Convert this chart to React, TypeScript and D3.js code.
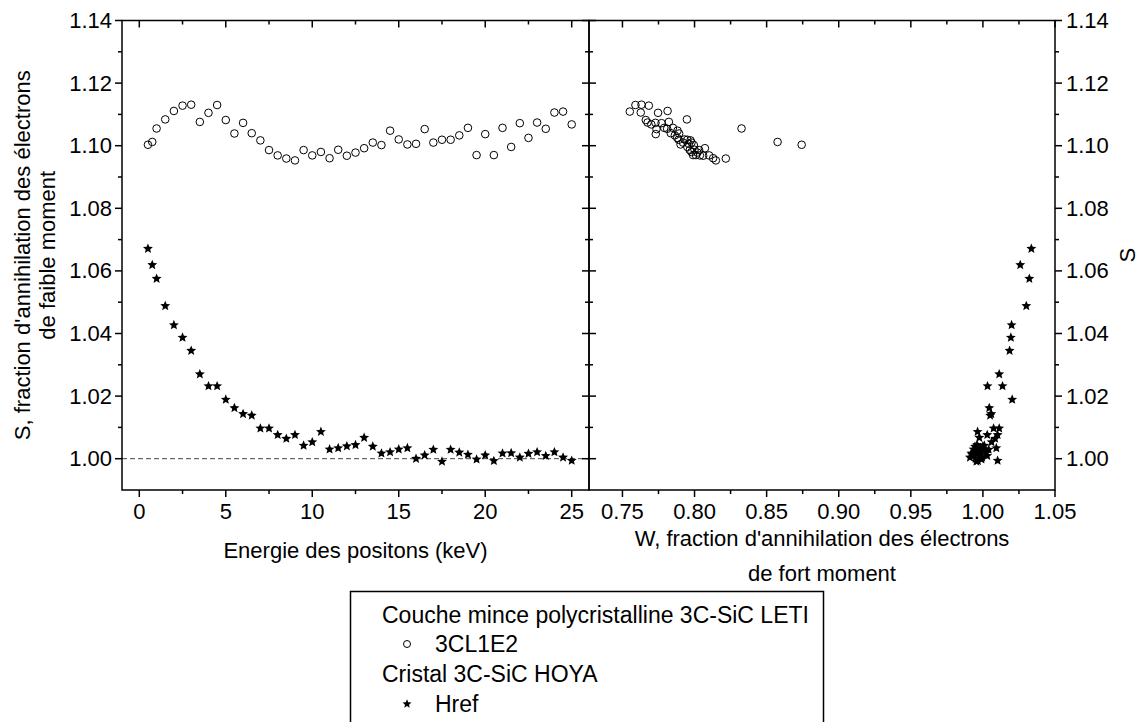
import React from "react";
import * as d3 from "d3";

// ---------- data ----------
const energies = [
  0.5, 0.75, 1, 1.5, 2, 2.5, 3, 3.5, 4, 4.5, 5, 5.5, 6, 6.5, 7, 7.5, 8, 8.5, 9, 9.5,
  10, 10.5, 11, 11.5, 12, 12.5, 13, 13.5, 14, 14.5, 15, 15.5, 16, 16.5, 17, 17.5, 18,
  18.5, 19, 19.5, 20, 20.5, 21, 21.5, 22, 22.5, 23, 23.5, 24, 24.5, 25,
];

// 3CL1E2 (open circles) : S parameter
const sFilm = [
  1.1003, 1.1012, 1.1055, 1.1084, 1.1111, 1.1128, 1.1131, 1.1076, 1.1105, 1.113,
  1.1082, 1.1039, 1.1073, 1.104, 1.1017, 1.0986, 1.0969, 1.0959, 1.0953, 1.0986,
  1.0969, 1.098, 1.096, 1.0987, 1.0968, 1.0978, 1.0992, 1.101, 1.1002, 1.1048,
  1.102, 1.1004, 1.1006, 1.1053, 1.101, 1.1019, 1.1019, 1.1033, 1.1057, 1.097,
  1.1037, 1.097, 1.1057, 1.0996, 1.1072, 1.1025, 1.1074, 1.1054, 1.1106, 1.1109,
  1.1068,
];
// 3CL1E2 : W parameter
const wFilm = [
  0.8743, 0.8576, 0.8326, 0.7947, 0.7813, 0.7683, 0.7632, 0.7822, 0.7747, 0.759,
  0.7662, 0.7893, 0.7729, 0.7835, 0.7972, 0.7967, 0.8037, 0.8217, 0.8148, 0.8032,
  0.8101, 0.7979, 0.8129, 0.8, 0.806, 0.802, 0.8072, 0.7979, 0.7995, 0.7882,
  0.793, 0.7903, 0.796, 0.7736, 0.792, 0.789, 0.795, 0.7863, 0.785, 0.801,
  0.7731, 0.799, 0.779, 0.795, 0.7771, 0.788, 0.7674, 0.781, 0.7627, 0.7551,
  0.77,
];

// Href (stars) : S parameter
const sCrystal = [
  1.0671, 1.0619, 1.0575, 1.0488, 1.0427, 1.0387, 1.0345, 1.027, 1.0232, 1.0232,
  1.0189, 1.0162, 1.0143, 1.0138, 1.0097, 1.0097, 1.0076, 1.0064, 1.0076, 1.0042,
  1.0053, 1.0086, 1.003, 1.0034, 1.004, 1.0044, 1.0067, 1.0039, 1.0017, 1.0021,
  1.003, 1.0034, 1.0, 1.0011, 1.0029, 0.9991, 1.0029, 1.002, 1.0013, 0.9998,
  1.0011, 0.9993, 1.0017, 1.0018, 1.0004, 1.0016, 1.0021, 1.0009, 1.0021, 1.0004,
  0.9994,
];
// Href : W parameter
const wCrystal = [
  1.0336, 1.0259, 1.0322, 1.0301, 1.0199, 1.0194, 1.0185, 1.0113, 1.0032, 1.0136,
  1.0203, 1.0044, 1.0058, 1.005, 1.0074, 1.0113, 1.0102, 1.0085, 1.003, 1.001,
  1.006, 0.9963, 0.9935, 0.9985, 1.0, 0.996, 0.9975, 0.9945, 0.992, 0.9965,
  1.001, 1.0093, 0.995, 0.993, 1.004, 0.9955, 1.0005, 0.997, 0.9925, 0.999,
  0.994, 0.9965, 1.002, 0.995, 0.991, 0.998, 0.996, 1.003, 0.9945, 0.9995,
  1.0102,
];

const yMajorTicks = [1.0, 1.02, 1.04, 1.06, 1.08, 1.1, 1.12, 1.14];
const yMinorTicks = [1.01, 1.03, 1.05, 1.07, 1.09, 1.11, 1.13];
const xLeftMajor = [0, 5, 10, 15, 20, 25];
const xLeftMinor = [2.5, 7.5, 12.5, 17.5, 22.5];
const xRightMajor = [0.75, 0.8, 0.85, 0.9, 0.95, 1.0, 1.05];
const xRightMinor = [0.775, 0.825, 0.875, 0.925, 0.975, 1.025];

const legendGroups = ["Couche mince polycristalline 3C-SiC LETI", "Cristal 3C-SiC HOYA"];
const legendSeries = ["3CL1E2", "Href"];

// ---------- layout ----------
const W = 1140;
const H = 722;
const top = 20.5;
const bottom = 490;
const leftX0 = 122;
const midX = 589;
const rightX1 = 1055;
const FONT = "'Liberation Sans', Arial, sans-serif";
const MAJ = 7;
const MIN = 4;

// fat five-pointed star (Origin style)
const fatStar = {
  draw(context: any, size: number) {
    const R = Math.sqrt(size);
    const r = R * 0.45;
    for (let i = 0; i < 10; i++) {
      const a = (Math.PI / 5) * i - Math.PI / 2;
      const rad = i % 2 === 0 ? R : r;
      const px = Math.cos(a) * rad;
      const py = Math.sin(a) * rad;
      if (i === 0) context.moveTo(px, py);
      else context.lineTo(px, py);
    }
    context.closePath();
  },
};

export default function App() {
  const xL = d3.scaleLinear().domain([-1, 26]).range([leftX0, midX]);
  const xR = d3.scaleLinear().domain([0.7268, 1.05]).range([midX, rightX1]);
  const y = d3.scaleLinear().domain([0.99, 1.14]).range([bottom, top]);

  const starPath = d3.symbol().type(fatStar as any).size(27)() as string;
  const legendStar = d3.symbol().type(fatStar as any).size(22)() as string;
  const fmt2 = d3.format(".2f");

  const ax = { stroke: "#000", strokeWidth: 1.5, fill: "none" } as const;

  const filmLeft = energies.map((e, i) => ({ x: e, s: sFilm[i] }));
  const crystalLeft = energies.map((e, i) => ({ x: e, s: sCrystal[i] }));
  const filmRight = wFilm.map((w, i) => ({ x: w, s: sFilm[i] }));
  const crystalRight = wCrystal.map((w, i) => ({ x: w, s: sCrystal[i] }));

  return (
    <svg
      width={W}
      height={H}
      style={{ position: "absolute", left: 0, top: 0, background: "#fff" }}
      fontFamily={FONT}
    >
      <rect x={0} y={0} width={W} height={H} fill="#fff" />

      {/* dashed reference line at S = 1 */}
      <line
        x1={leftX0}
        x2={midX}
        y1={y(1.0)}
        y2={y(1.0)}
        stroke="#444"
        strokeWidth={1}
        strokeDasharray="5,3"
      />

      {/* ---- y ticks ---- */}
      {yMajorTicks.map((t) => (
        <g key={"ly" + t}>
          <line x1={leftX0 - MAJ} x2={leftX0} y1={y(t)} y2={y(t)} {...ax} />
          <line x1={midX - MAJ} x2={midX + MAJ} y1={y(t)} y2={y(t)} {...ax} />
          <line x1={rightX1} x2={rightX1 + MAJ} y1={y(t)} y2={y(t)} {...ax} />
          <text
            x={leftX0 - 10}
            y={y(t)}
            textAnchor="end"
            dominantBaseline="central"
            fontSize={22}
          >
            {fmt2(t)}
          </text>
          <text
            x={rightX1 + 11}
            y={y(t)}
            textAnchor="start"
            dominantBaseline="central"
            fontSize={22}
          >
            {fmt2(t)}
          </text>
        </g>
      ))}
      {yMinorTicks.map((t) => (
        <g key={"lym" + t}>
          <line x1={leftX0 - MIN} x2={leftX0} y1={y(t)} y2={y(t)} {...ax} />
          <line x1={midX - MIN} x2={midX + MIN} y1={y(t)} y2={y(t)} {...ax} />
          <line x1={rightX1} x2={rightX1 + MIN} y1={y(t)} y2={y(t)} {...ax} />
        </g>
      ))}

      {/* ---- x ticks ---- */}
      {xLeftMajor.map((t) => (
        <g key={"lx" + t}>
          <line x1={xL(t)} x2={xL(t)} y1={bottom} y2={bottom + MAJ} {...ax} />
          <line x1={xL(t)} x2={xL(t)} y1={top} y2={top + MAJ} {...ax} />
          <text x={xL(t)} y={519} textAnchor="middle" fontSize={22}>
            {t}
          </text>
        </g>
      ))}
      {xLeftMinor.map((t) => (
        <g key={"lxm" + t}>
          <line x1={xL(t)} x2={xL(t)} y1={bottom} y2={bottom + MIN} {...ax} />
          <line x1={xL(t)} x2={xL(t)} y1={top} y2={top + MIN} {...ax} />
        </g>
      ))}

      {xRightMajor.map((t) => (
        <g key={"rx" + t}>
          <line x1={xR(t)} x2={xR(t)} y1={bottom} y2={bottom + MAJ} {...ax} />
          <line x1={xR(t)} x2={xR(t)} y1={top} y2={top + MAJ} {...ax} />
          <text x={xR(t)} y={519} textAnchor="middle" fontSize={22}>
            {fmt2(t)}
          </text>
        </g>
      ))}
      {xRightMinor.map((t) => (
        <g key={"rxm" + t}>
          <line x1={xR(t)} x2={xR(t)} y1={bottom} y2={bottom + MIN} {...ax} />
          <line x1={xR(t)} x2={xR(t)} y1={top} y2={top + MIN} {...ax} />
        </g>
      ))}

      {/* frames */}
      <rect x={leftX0} y={top} width={midX - leftX0} height={bottom - top} {...ax} />
      <rect x={midX} y={top} width={rightX1 - midX} height={bottom - top} {...ax} />

      {/* ---- data: left panel ---- */}
      {filmLeft.map((d, i) => (
        <circle
          key={"fl" + i}
          cx={xL(d.x)}
          cy={y(d.s)}
          r={3.8}
          fill="none"
          stroke="#000"
          strokeWidth={1}
        />
      ))}
      {crystalLeft.map((d, i) => (
        <path key={"cl" + i} d={starPath} transform={`translate(${xL(d.x)},${y(d.s)})`} fill="#000" />
      ))}

      {/* ---- data: right panel ---- */}
      {filmRight.map((d, i) => (
        <circle
          key={"fr" + i}
          cx={xR(d.x)}
          cy={y(d.s)}
          r={3.8}
          fill="none"
          stroke="#000"
          strokeWidth={1}
        />
      ))}
      {crystalRight.map((d, i) => (
        <path key={"cr" + i} d={starPath} transform={`translate(${xR(d.x)},${y(d.s)})`} fill="#000" />
      ))}

      {/* ---- axis titles ---- */}
      <text x={(leftX0 + midX) / 2} y={558} textAnchor="middle" fontSize={22}>
        Energie des positons (keV)
      </text>
      <text x={(midX + rightX1) / 2} y={546} textAnchor="middle" fontSize={22}>
        W, fraction d'annihilation des électrons
      </text>
      <text x={(midX + rightX1) / 2} y={581} textAnchor="middle" fontSize={22}>
        de fort moment
      </text>
      <g transform={`translate(22,${(top + bottom) / 2}) rotate(-90)`}>
        <text textAnchor="middle" dominantBaseline="central" fontSize={22}>
          S, fraction d'annihilation des électrons
        </text>
      </g>
      <g transform={`translate(47,${(top + bottom) / 2}) rotate(-90)`}>
        <text textAnchor="middle" dominantBaseline="central" fontSize={22}>
          de faible moment
        </text>
      </g>
      <g transform={`translate(1127,${(top + bottom) / 2}) rotate(-90)`}>
        <text textAnchor="middle" dominantBaseline="central" fontSize={22}>
          S
        </text>
      </g>

      {/* ---- legend ---- */}
      <rect x={350.5} y={591.5} width={473} height={150} fill="#fff" stroke="#000" strokeWidth={1.5} />
      <text x={382} y={623} fontSize={23}>
        {legendGroups[0]}
      </text>
      <circle cx={407} cy={644} r={3.5} fill="none" stroke="#000" strokeWidth={1} />
      <text x={435} y={652} fontSize={23}>
        {legendSeries[0]}
      </text>
      <text x={382} y={682} fontSize={23}>
        {legendGroups[1]}
      </text>
      <path d={legendStar} transform={`translate(407,704)`} fill="#000" />
      <text x={435} y={712} fontSize={23}>
        {legendSeries[1]}
      </text>
    </svg>
  );
}
